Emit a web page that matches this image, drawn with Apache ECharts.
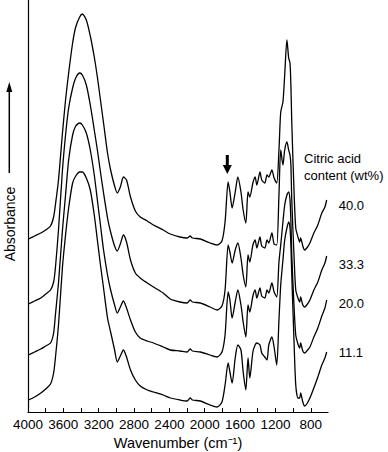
<!DOCTYPE html>
<html>
<head>
<meta charset="utf-8">
<title>FTIR spectra</title>
<script src="https://cdn.jsdelivr.net/npm/echarts@6/dist/echarts.min.js"></script>
<style>
  html, body { margin: 0; padding: 0; background: #fff; }
  #chart { width: 388px; height: 452px; }
</style>
</head>
<body>
<div id="chart"></div>
<script>
// wavenumber (cm-1), shared by all four spectra
const wavenumbers = [
  3995, 3925, 3855, 3800, 3745, 3710, 3690, 3655, 3610, 3575,
  3540, 3495, 3460, 3415, 3385, 3340, 3295, 3250, 3215, 3180,
  3145, 3100, 3065, 3020, 2990, 2955, 2920, 2885, 2840, 2785,
  2730, 2650, 2580, 2470, 2390, 2280, 2200, 2165, 2140, 2050,
  1940, 1860, 1805, 1770, 1735, 1715, 1690, 1655, 1625, 1590,
  1565, 1535, 1510, 1490, 1455, 1430, 1410, 1375, 1355, 1320,
  1295, 1275, 1240, 1215, 1185, 1160, 1140, 1115, 1095, 1070,
  1050, 1035, 1025, 1015, 990, 970, 945, 925, 915, 890,
  870, 845, 810, 765, 720, 675, 640, 620
];

// absorbance (arb. units, curves already offset)
const absorbance400 = [
  173, 176, 179, 182, 186, 195, 207, 232, 279, 312,
  339, 369, 385, 395, 398, 392, 376, 355, 335, 312,
  289, 259, 242, 226, 219, 225, 235, 232, 215, 201,
  195, 191, 187, 182, 178, 175, 174, 176, 174, 173,
  169, 167, 171, 190, 230, 220, 204, 220, 235, 220,
  202, 189, 220, 215, 229, 235, 227, 240, 232, 229,
  237, 235, 242, 234, 229, 262, 300, 310, 337, 372,
  354, 349, 327, 290, 222, 184, 175, 170, 174, 166,
  162, 164, 169, 179, 187, 199, 205, 212
];
const absorbance333 = [
  108, 111, 114, 118, 122, 130, 144, 182, 242, 277,
  304, 324, 334, 339, 337, 327, 307, 282, 262, 240,
  219, 194, 180, 166, 161, 168, 177, 170, 152, 139,
  134, 129, 125, 119, 113, 110, 109, 112, 110, 109,
  105, 102, 106, 122, 167, 160, 149, 162, 169, 154,
  137, 125, 157, 150, 167, 172, 164, 175, 166, 164,
  172, 169, 179, 168, 167, 217, 262, 247, 262, 270,
  262, 257, 247, 212, 157, 122, 114, 110, 115, 107,
  105, 107, 112, 122, 130, 142, 149, 156
];
const absorbance200 = [
  57, 60, 63, 66, 69, 79, 97, 129, 182, 217,
  252, 277, 286, 289, 287, 279, 262, 237, 212, 187,
  162, 137, 122, 107, 99, 105, 111, 104, 92, 80,
  74, 71, 69, 65, 62, 61, 60, 63, 61, 60,
  57, 55, 60, 77, 120, 112, 94, 110, 122, 107,
  90, 75, 107, 100, 116, 122, 114, 124, 116, 114,
  122, 119, 129, 120, 115, 150, 167, 190, 207, 217,
  220, 212, 192, 157, 107, 77, 68, 64, 69, 61,
  59, 61, 65, 75, 84, 96, 104, 112
];
const absorbance111 = [
  12, 15, 19, 23, 28, 39, 54, 87, 145, 177,
  204, 229, 236, 240, 240, 234, 222, 197, 172, 147,
  124, 94, 80, 62, 50, 56, 62, 55, 42, 32,
  26, 22, 20, 17, 14, 12, 11, 14, 12, 11,
  7, 5, 10, 27, 49, 40, 29, 54, 67, 62,
  40, 22, 54, 34, 60, 67, 69, 67, 59, 55,
  52, 67, 75, 65, 47, 92, 127, 152, 172, 184,
  190, 184, 167, 137, 72, 27, 14, 14, 19, 10,
  6, 8, 14, 24, 35, 47, 54, 60
];

const contentLabels = ["40.0", "33.3", "20.0", "11.1"];
const tickValues = [4000, 3800, 3600, 3400, 3200, 3000, 2800, 2600, 2400, 2200, 2000, 1800, 1600, 1400, 1200, 1000, 800];
const labelValues = [4000, 3600, 3200, 2800, 2400, 2000, 1600, 1200, 800];

const FONT = "'Liberation Sans', Arial, Helvetica, sans-serif";
const spectra = [absorbance400, absorbance333, absorbance200, absorbance111];
const labelShift = [5, 8, 3, 0]; // label sits a little below the curve end

const chart = echarts.init(document.getElementById("chart"), null, { renderer: "svg" });

const option = {
  animation: false,
  textStyle: { fontFamily: FONT, color: "#000" },
  grid: {
    left: 28,
    right: 60,
    top: 0,
    bottom: 40,
    containLabel: false,
    outerBoundsMode: "none",
  },
  xAxis: {
    type: "value",
    inverse: true,
    min: 605,
    max: 4000,
    name: "Wavenumber (cm\u207B\u00B9)",
    nameLocation: "middle",
    nameGap: 22,
    nameTextStyle: { fontSize: 14.5, color: "#000", fontFamily: FONT },
    axisLine: { show: true, lineStyle: { color: "#000", width: 1.2 } },
    axisTick: {
      show: true,
      inside: true,
      length: 4,
      customValues: tickValues,
      lineStyle: { color: "#000", width: 1 },
    },
    axisLabel: {
      customValues: labelValues,
      formatter: (v) => String(v),
      color: "#000",
      fontSize: 13.5,
      fontFamily: FONT,
      margin: 5,
    },
    splitLine: { show: false },
  },
  yAxis: {
    type: "value",
    min: 0,
    max: 412,
    axisLine: { show: true, lineStyle: { color: "#000", width: 1.2 } },
    axisTick: { show: false },
    axisLabel: { show: false },
    splitLine: { show: false },
  },
  series: spectra.map((values, i) => ({
    name: contentLabels[i],
    type: "line",
    data: wavenumbers.map((w, j) => [w, values[j]]),
    symbol: "none",
    smooth: 0.25,
    silent: true,
    lineStyle: { color: "#000", width: 1.3 },
  })),
  graphic: [
    // y axis title with arrow
    {
      id: "yTitle",
      type: "text",
      x: 10,
      y: 224,
      rotation: Math.PI / 2,
      style: {
        text: "Absorbance",
        fill: "#000",
        font: "14px " + FONT,
        align: "center",
        verticalAlign: "middle",
        textAlign: "center",
        textVerticalAlign: "middle",
      },
    },
    {
      id: "yArrowLine",
      type: "line",
      shape: { x1: 9.3, y1: 173, x2: 9.3, y2: 90 },
      style: { stroke: "#000", lineWidth: 1.5 },
    },
    {
      id: "yArrowHead",
      type: "polygon",
      shape: { points: [[9.3, 82], [6.3, 92], [12.3, 92]] },
      style: { fill: "#000" },
    },
    // marker above the 1735 band
    {
      id: "bandShaft",
      type: "rect",
      shape: { x: 225.8, y: 155, width: 3, height: 11 },
      style: { fill: "#000" },
    },
    {
      id: "bandHead",
      type: "polygon",
      shape: { points: [[222.8, 165], [231.8, 165], [227.3, 174]] },
      style: { fill: "#000" },
    },
    // legend title
    {
      id: "legendTitle1",
      type: "text",
      x: 304,
      y: 158,
      style: { text: "Citric acid", fill: "#000", font: "13px " + FONT, verticalAlign: "middle", textVerticalAlign: "middle" },
    },
    {
      id: "legendTitle2",
      type: "text",
      x: 304,
      y: 175,
      style: { text: "content (wt%)", fill: "#000", font: "13px " + FONT, verticalAlign: "middle", textVerticalAlign: "middle" },
    },
  ],
};

chart.setOption(option);

// content labels next to the right end of each curve
const lastIndex = wavenumbers.length - 1;
chart.setOption({
  graphic: spectra.map((values, i) => {
    const p = chart.convertToPixel({ gridIndex: 0 }, [wavenumbers[lastIndex], values[lastIndex]]);
    return {
      id: "content" + i,
      type: "text",
      x: p[0] + 12,
      y: p[1] + labelShift[i],
      style: {
        text: contentLabels[i],
        fill: "#000",
        font: "13px " + FONT,
        verticalAlign: "middle",
        textVerticalAlign: "middle",
      },
    };
  }),
});

window.addEventListener("resize", () => {
  chart.resize();
});
</script>
</body>
</html>
